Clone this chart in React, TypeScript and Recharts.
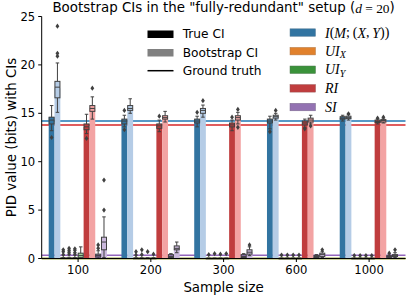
import React from "react";
import { BarChart, Bar, XAxis, YAxis, ReferenceLine } from "recharts";

const sampleSizes = ["100", "200", "300", "600", "1000"];
const yTicks = [0, 5, 10, 15, 20, 25];

// bar heights (mean estimate per sample size)
const meanITrue = [14.6, 14.3, 14.3, 14.3, 14.5];
const meanIBoot = [17.6, 15.5, 15.3, 14.65, 14.55];
const meanUIXTrue = [0.05, 0.02, 0.02, 0.01, 0.01];
const meanUIXBoot = [0.06, 0.03, 0.02, 0.01, 0.01];
const meanUIYTrue = [0.05, 0.02, 0.02, 0.01, 0.01];
const meanUIYBoot = [0.3, 0.03, 0.02, 0.01, 0.01];
const meanRITrue = [13.6, 13.7, 13.8, 13.95, 14.15];
const meanRIBoot = [15.5, 14.55, 14.55, 14.3, 14.25];
const meanSITrue = [0.3, 0.2, 0.2, 0.2, 0.2];
const meanSIBoot = [1.6, 1.05, 0.65, 0.4, 0.3];

// box stats: [low whisker, q1, median, q3, high whisker]
const boxITrue = [
  [13.2, 13.9, 14.3, 14.6, 15.8],
  [13.6, 13.9, 14.2, 14.4, 14.8],
  [13.6, 14.0, 14.2, 14.4, 14.7],
  [13.4, 14.0, 14.2, 14.4, 14.7],
  [14.2, 14.4, 14.5, 14.65, 14.8],
];
const boxIBoot = [
  [15.1, 16.6, 17.7, 18.3, 20.2],
  [15.0, 15.3, 15.5, 15.8, 16.5],
  [14.6, 15.0, 15.3, 15.5, 15.85],
  [14.3, 14.5, 14.65, 14.8, 15.0],
  [14.3, 14.45, 14.55, 14.7, 14.85],
];
const boxUIXTrue = [
  [0, 0, 0.02, 0.05, 0.1],
  [0, 0, 0.01, 0.03, 0.08],
  [0, 0, 0.01, 0.02, 0.05],
  [0, 0, 0.01, 0.02, 0.05],
  [0, 0, 0.01, 0.02, 0.04],
];
const boxUIXBoot = [
  [0, 0, 0.02, 0.05, 0.12],
  [0, 0, 0.01, 0.03, 0.08],
  [0, 0, 0.01, 0.02, 0.05],
  [0, 0, 0.01, 0.02, 0.05],
  [0, 0, 0.01, 0.02, 0.04],
];
const boxUIYTrue = [
  [0, 0, 0.02, 0.05, 0.1],
  [0, 0, 0.01, 0.03, 0.08],
  [0, 0, 0.01, 0.02, 0.05],
  [0, 0, 0.01, 0.02, 0.05],
  [0, 0, 0.01, 0.02, 0.04],
];
const boxUIYBoot = [
  [0, 0.1, 0.3, 0.55, 1.2],
  [0, 0, 0.01, 0.03, 0.08],
  [0, 0, 0.01, 0.02, 0.05],
  [0, 0, 0.01, 0.02, 0.05],
  [0, 0, 0.01, 0.02, 0.04],
];
const boxRITrue = [
  [12.9, 13.3, 13.6, 13.9, 14.9],
  [13.1, 13.45, 13.7, 13.9, 14.3],
  [13.2, 13.6, 13.8, 14.0, 14.3],
  [13.5, 13.8, 14.0, 14.2, 14.4],
  [13.9, 14.05, 14.15, 14.3, 14.4],
];
const boxRIBoot = [
  [14.4, 15.2, 15.5, 15.8, 16.7],
  [14.1, 14.4, 14.55, 14.75, 15.2],
  [13.9, 14.3, 14.55, 14.75, 15.1],
  [13.9, 14.1, 14.3, 14.5, 14.8],
  [14.0, 14.1, 14.25, 14.35, 14.5],
];
const boxSITrue = [
  [0, 0.15, 0.3, 0.45, 0.8],
  [0, 0.1, 0.2, 0.4, 0.5],
  [0, 0.1, 0.2, 0.4, 0.5],
  [0, 0.1, 0.2, 0.3, 0.4],
  [0.05, 0.12, 0.2, 0.28, 0.35],
];
const boxSIBoot = [
  [0.1, 0.9, 1.7, 2.2, 4.3],
  [0.6, 0.9, 1.05, 1.3, 1.7],
  [0.3, 0.45, 0.65, 0.9, 1.2],
  [0.1, 0.2, 0.4, 0.55, 0.7],
  [0.1, 0.2, 0.3, 0.4, 0.6],
];

// outliers
const outITrue = [[12.5], [15.3, 13.3], [15.1], [13.1], []];
const outIBoot = [[20.9, 21.2, 24.0], [], [16.3], [15.3], [14.95]];
const outUIXTrue = [[0.4, 0.7, 0.9], [0.35, 0.7], [0.4], [0.35], [0.3]];
const outUIXBoot = [[0.45, 0.65, 0.85, 1.05], [0.4, 0.9], [0.5], [0.35], [0.3]];
const outUIYTrue = [[0.4, 0.6, 0.85, 1.0], [0.7], [0.45], [0.35], [0.3]];
const outUIYBoot = [[], [0.45], [0.5], [0.35], [0.3]];
const outRITrue = [[12.4], [14.7], [14.6], [13.4], [14.5]];
const outRIBoot = [[17.6], [], [15.4, 13.55], [13.7], [14.6]];
const outSITrue = [[1.05, 1.4], [], [], [], [0.55]];
const outSIBoot = [[5.0, 8.1], [], [1.4], [0.9], [0.9]];

// ground truth values
const truthI = 14.2;
const truthUIX = 0;
const truthUIY = 0;
const truthRI = 13.8;
const truthSI = 0.33;

const EDGE = "#404040";

const series = [
  { key: "ITrue", mean: meanITrue, box: boxITrue, out: outITrue, fill: "#3274a1" },
  { key: "IBoot", mean: meanIBoot, box: boxIBoot, out: outIBoot, fill: "#b5cce6" },
  { key: "UIXTrue", mean: meanUIXTrue, box: boxUIXTrue, out: outUIXTrue, fill: "#e1812c" },
  { key: "UIXBoot", mean: meanUIXBoot, box: boxUIXBoot, out: outUIXBoot, fill: "#f6c394" },
  { key: "UIYTrue", mean: meanUIYTrue, box: boxUIYTrue, out: outUIYTrue, fill: "#3a923a" },
  { key: "UIYBoot", mean: meanUIYBoot, box: boxUIYBoot, out: outUIYBoot, fill: "#9fd39b" },
  { key: "RITrue", mean: meanRITrue, box: boxRITrue, out: outRITrue, fill: "#c03d3e" },
  { key: "RIBoot", mean: meanRIBoot, box: boxRIBoot, out: outRIBoot, fill: "#f3a3a3" },
  { key: "SITrue", mean: meanSITrue, box: boxSITrue, out: outSITrue, fill: "#9372b2" },
  { key: "SIBoot", mean: meanSIBoot, box: boxSIBoot, out: outSIBoot, fill: "#cab8dc" },
];

const rows = sampleSizes.map((size, i) => {
  const r: any = { size };
  series.forEach((s) => {
    r[s.key] = s.mean[i];
    r[s.key + "W"] = [s.box[i][0], s.box[i][4]];
    r[s.key + "Box"] = s.box[i];
    r[s.key + "Out"] = s.out[i];
  });
  return r;
});

// draws whiskers, box, median and outliers on a [low, high] whisker bar
function boxShape(key: string, fill: string) {
  return (p: any) => {
    const st: number[] = p.payload[key + "Box"];
    const outs: number[] = p.payload[key + "Out"];
    const lo = st[0];
    const hi = st[4];
    const py = (v: number) => p.y + ((hi - v) / (hi - lo)) * p.height;
    const cx = p.x + p.width / 2;
    const half = p.width / 2 - 0.4;
    const cap = p.width * 0.3;
    const top = py(st[3]);
    const bot = py(st[1]);
    return (
      <g>
        <line x1={cx} x2={cx} y1={py(hi)} y2={top} stroke={EDGE} strokeWidth={1} />
        <line x1={cx} x2={cx} y1={bot} y2={py(lo)} stroke={EDGE} strokeWidth={1} />
        <line x1={cx - cap} x2={cx + cap} y1={py(hi)} y2={py(hi)} stroke={EDGE} strokeWidth={1} />
        <line x1={cx - cap} x2={cx + cap} y1={py(lo)} y2={py(lo)} stroke={EDGE} strokeWidth={1} />
        <rect
          x={cx - half}
          y={top}
          width={half * 2}
          height={Math.max(bot - top, 0.6)}
          fill={fill}
          stroke={EDGE}
          strokeWidth={1}
        />
        <line x1={cx - half} x2={cx + half} y1={py(st[2])} y2={py(st[2])} stroke={EDGE} strokeWidth={1} />
        {outs.map((v, i) => {
          const y = py(v);
          return (
            <path
              key={i}
              d={`M${cx},${y - 2.6}L${cx + 1.9},${y}L${cx},${y + 2.6}L${cx - 1.9},${y}Z`}
              fill={EDGE}
            />
          );
        })}
      </g>
    );
  };
}

const BAR_W = 5.82;
const serif = "Liberation Serif";

export default function App() {
  return (
    <div
      style={{
        position: "absolute",
        left: 0,
        top: 0,
        width: 407,
        height: 297,
        fontFamily: "DejaVu Sans",
        background: "#fff",
      }}
    >
      <BarChart
        width={407}
        height={297}
        data={rows}
        barGap={0}
        margin={{ top: 16.5, right: 1.5, bottom: 0, left: 0 }}
      >
        <XAxis
          dataKey="size"
          height={38.5}
          interval={0}
          tickSize={3.5}
          tickMargin={4}
          tick={{ fill: "#000", fontSize: 11.6 }}
          axisLine={{ stroke: "#000" }}
          tickLine={{ stroke: "#000" }}
        />
        <XAxis
          xAxisId="box"
          dataKey="size"
          orientation="top"
          height={0}
          tick={false}
          tickLine={false}
          axisLine={{ stroke: "#000" }}
        />
        <YAxis
          type="number"
          domain={[0, 25]}
          ticks={yTicks}
          width={41.7}
          tickSize={3.5}
          tickMargin={3}
          tick={{ fill: "#000", fontSize: 11.6 }}
          axisLine={{ stroke: "#000" }}
          tickLine={{ stroke: "#000" }}
        />
        <YAxis
          yAxisId="r"
          orientation="right"
          type="number"
          domain={[0, 25]}
          width={0}
          tick={false}
          tickLine={false}
          axisLine={{ stroke: "#000" }}
        />
        <ReferenceLine y={truthUIX} stroke="#ff7f0e" strokeWidth={1.5} zIndex={100} />
        <ReferenceLine y={truthUIY} stroke="#2ca02c" strokeWidth={1.5} zIndex={100} />
        <ReferenceLine y={truthSI} stroke="#9467bd" strokeWidth={1.5} zIndex={100} />
        <ReferenceLine y={truthRI} stroke="#d62728" strokeWidth={1.5} zIndex={100} />
        <ReferenceLine y={truthI} stroke="#1f77b4" strokeWidth={1.5} zIndex={100} />
        {series.map((s) => (
          <Bar
            key={s.key}
            dataKey={s.key}
            fill={s.fill}
            barSize={BAR_W}
            isAnimationActive={false}
          />
        ))}
        {series.map((s) => (
          <Bar
            key={s.key + "W"}
            xAxisId="box"
            dataKey={s.key + "W"}
            barSize={BAR_W}
            shape={boxShape(s.key, s.fill)}
            isAnimationActive={false}
          />
        ))}
      </BarChart>

      <svg
        width={407}
        height={297}
        style={{ position: "absolute", left: 0, top: 0, pointerEvents: "none" }}
      >
        <text x={223.6} y={7.5} textAnchor="middle" dominantBaseline="central" fontSize={13.4}>
          Bootstrap CIs in the "fully-redundant" setup (
          <tspan fontFamily={serif} fontStyle="italic">d</tspan>
          <tspan fontFamily={serif}> = 20</tspan>)
        </text>
        <text x={223.6} y={287} textAnchor="middle" dominantBaseline="central" fontSize={13.4}>
          Sample size
        </text>
        <text
          x={11}
          y={137.5}
          textAnchor="middle"
          dominantBaseline="central"
          fontSize={13.4}
          transform="rotate(-90 11 137.5)"
        >
          PID value (bits) with CIs
        </text>

        <rect x={147.5} y={30.5} width={26} height={7.5} fill="#000" />
        <text x={182.7} y={34.3} dominantBaseline="central" fontSize={12.2}>True CI</text>
        <rect x={147.5} y={49} width={26} height={7.5} fill="#808080" />
        <text x={182.7} y={52.7} dominantBaseline="central" fontSize={12.2}>Bootstrap CI</text>
        <line x1={147.5} x2={173.5} y1={70.7} y2={70.7} stroke="#000" strokeWidth={1.5} />
        <text x={182.7} y={70.7} dominantBaseline="central" fontSize={12.2}>Ground truth</text>

        <rect x={290} y={28.8} width={25.5} height={7.5} fill="#3274a1" stroke="#5a7f99" strokeWidth={0.5} />
        <text x={325} y={32.5} dominantBaseline="central" fontSize={14} fontFamily={serif}>
          <tspan fontStyle="italic">I</tspan>(<tspan fontStyle="italic">M</tspan>;{"\u2009"}(
          <tspan fontStyle="italic">X</tspan>,{"\u2009"}<tspan fontStyle="italic">Y</tspan>))
        </text>
        <rect x={290} y={47.4} width={25.5} height={7.5} fill="#e1812c" stroke="#b07a4a" strokeWidth={0.5} />
        <text x={325} y={51.1} dominantBaseline="central" fontSize={14} fontFamily={serif} fontStyle="italic">
          UI<tspan dy={3} fontSize={10}>X</tspan>
        </text>
        <rect x={290} y={66} width={25.5} height={7.5} fill="#3a923a" stroke="#4f7a4f" strokeWidth={0.5} />
        <text x={325} y={69.7} dominantBaseline="central" fontSize={14} fontFamily={serif} fontStyle="italic">
          UI<tspan dy={3} fontSize={10}>Y</tspan>
        </text>
        <rect x={290} y={84.6} width={25.5} height={7.5} fill="#c03d3e" stroke="#995555" strokeWidth={0.5} />
        <text x={325} y={88.3} dominantBaseline="central" fontSize={14} fontFamily={serif} fontStyle="italic">
          RI
        </text>
        <rect x={290} y={103.3} width={25.5} height={7.5} fill="#9372b2" stroke="#7a6a8a" strokeWidth={0.5} />
        <text x={325} y={107} dominantBaseline="central" fontSize={14} fontFamily={serif} fontStyle="italic">
          SI
        </text>
      </svg>
    </div>
  );
}
